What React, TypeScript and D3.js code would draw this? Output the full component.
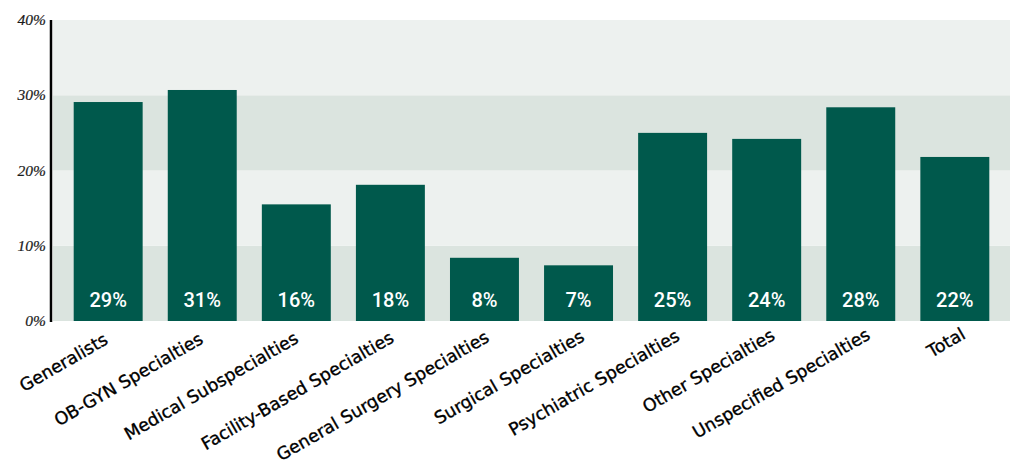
import React from "react";
import * as d3 from "d3";

const categories = [
  "Generalists",
  "OB-GYN Specialties",
  "Medical Subspecialties",
  "Facility-Based Specialties",
  "General Surgery Specialties",
  "Surgical Specialties",
  "Psychiatric Specialties",
  "Other Specialties",
  "Unspecified Specialties",
  "Total",
];
const values = [29.1, 30.7, 15.5, 18.1, 8.4, 7.4, 25.0, 24.2, 28.4, 21.8];
const labels = ["29%", "31%", "16%", "18%", "8%", "7%", "25%", "24%", "28%", "22%"];
const yTicks = [0, 10, 20, 30, 40];

const W = 1010;
const H = 460;
const left = 53;
const right = 1010;
const top = 20;
const bottom = 321;

export default function App() {
  const x = d3
    .scaleBand<string>()
    .domain(categories)
    .range([left, right])
    .paddingInner(0.267)
    .paddingOuter(0.22);
  const y = d3.scaleLinear().domain([0, 40]).range([bottom, top]);
  const bands = d3.range(0, 40, 10);

  return (
    <svg
      width={W}
      height={H}
      style={{ position: "absolute", left: 0, top: 0, background: "#fff" }}
    >
      {bands.map((b) => (
        <rect
          key={b}
          x={left}
          y={y(b + 10)}
          width={right - left}
          height={y(b) - y(b + 10)}
          fill={(b / 10) % 2 === 0 ? "#dbe4df" : "#edf1ef"}
        />
      ))}
      {categories.map((c, i) => (
        <rect
          key={c}
          x={x(c)}
          y={y(values[i])}
          width={x.bandwidth()}
          height={y(0) - y(values[i])}
          fill="#00594c"
        />
      ))}
      {categories.map((c, i) => (
        <text
          key={c + "l"}
          x={(x(c) as number) + x.bandwidth() / 2}
          y={307}
          textAnchor="middle"
          fill="#fff"
          fontFamily="Roboto"
          fontWeight={500}
          fontSize={20}
        >
          {labels[i]}
        </text>
      ))}
      <line x1={51} x2={51} y1={top} y2={bottom + 1} stroke="#000" strokeWidth={2.5} />
      {yTicks.map((t) => (
        <text
          key={t}
          x={46}
          y={y(t) + 5}
          textAnchor="end"
          fontFamily="'Liberation Serif', serif"
          fontStyle="italic"
          fontSize={15.5}
          fill="#1a1a1a"
          stroke="#1a1a1a"
          strokeWidth={0.2}
        >
          {t}%
        </text>
      ))}
      {categories.map((c, i) => {
        const cx = (x(c) as number) + x.bandwidth() / 2 + 1 + i * 1.2;
        const cy = 343 - i * 0.6;
        return (
          <text
            key={c + "c"}
            transform={`translate(${cx},${cy}) rotate(-30)`}
            textAnchor="end"
            fontFamily="'DejaVu Sans', sans-serif"
            fontSize={17.4}
            fill="#000"
            stroke="#000"
            strokeWidth={0.35}
          >
            {c}
          </text>
        );
      })}
    </svg>
  );
}
